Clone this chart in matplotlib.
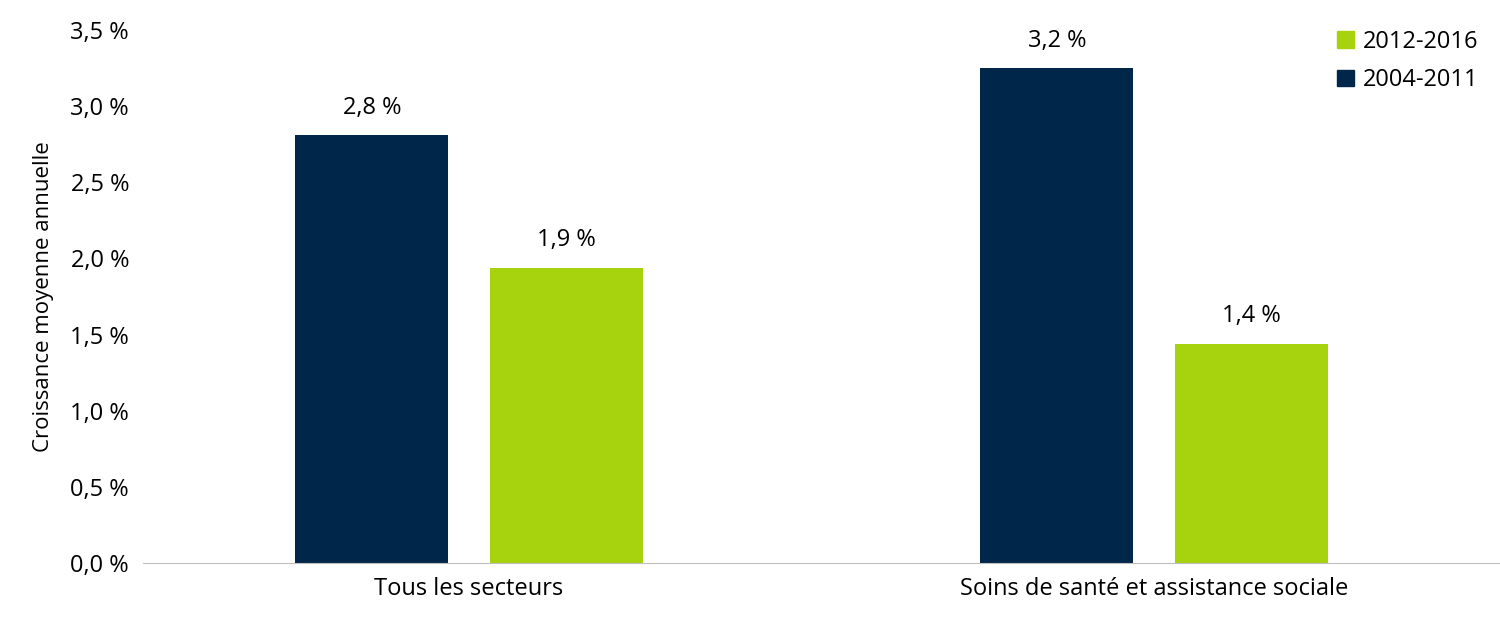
import matplotlib
matplotlib.use("Agg")
import matplotlib.pyplot as plt
from matplotlib.patches import Patch

plt.rcParams['font.family'] = 'Open Sans'

categories = ["Tous les secteurs", "Soins de santé et assistance sociale"]
s2004 = [2.81, 3.25]
s2012 = [1.94, 1.44]
labels2004 = ["2,8 %", "3,2 %"]
labels2012 = ["1,9 %", "1,4 %"]
yticks = [0, 0.5, 1.0, 1.5, 2.0, 2.5, 3.0, 3.5]
ytick_labels = ["0,0 %", "0,5 %", "1,0 %", "1,5 %", "2,0 %", "2,5 %", "3,0 %", "3,5 %"]

navy = "#00274A"
green = "#A6D30E"

fig = plt.figure(figsize=(15, 6.27), dpi=100)
ax = fig.add_axes([143/1500, (627-563)/627, 1 - 143/1500, (563-30)/627])
x = [0, 1]
w = 0.223
off = 0.142
b1 = ax.bar([i - off for i in x], s2004, w, color=navy)
b2 = ax.bar([i + off for i in x], s2012, w, color=green)
for bar, lab in zip(b1, labels2004):
    ax.text(bar.get_x() + bar.get_width()/2, bar.get_height() + 0.1, lab, ha='center', va='bottom', fontsize=17)
for bar, lab in zip(b2, labels2012):
    ax.text(bar.get_x() + bar.get_width()/2, bar.get_height() + 0.1, lab, ha='center', va='bottom', fontsize=17)

ax.set_xlim(-0.476, 1.505)
ax.set_ylim(0, 3.5)
ax.set_yticks(yticks)
ax.set_yticklabels(ytick_labels, fontsize=17)
ax.set_xticks(x)
ax.set_xticklabels(categories, fontsize=17)
ax.tick_params(axis='both', length=0, pad=10)
for s in ['top', 'right', 'left']:
    ax.spines[s].set_visible(False)
ax.spines['bottom'].set_color('#BFBFBF')
ax.set_ylabel("Croissance moyenne annuelle", fontsize=16, labelpad=12)

handles = [Patch(color=green, label="2012-2016"), Patch(color=navy, label="2004-2011")]
ax.legend(handles=handles, loc='upper right', bbox_to_anchor=(1.0, 1.04), frameon=False,
          fontsize=17, handlelength=0.7, handleheight=0.7, handletextpad=0.4, labelspacing=0.6)

fig.savefig("out.png", dpi=100)
